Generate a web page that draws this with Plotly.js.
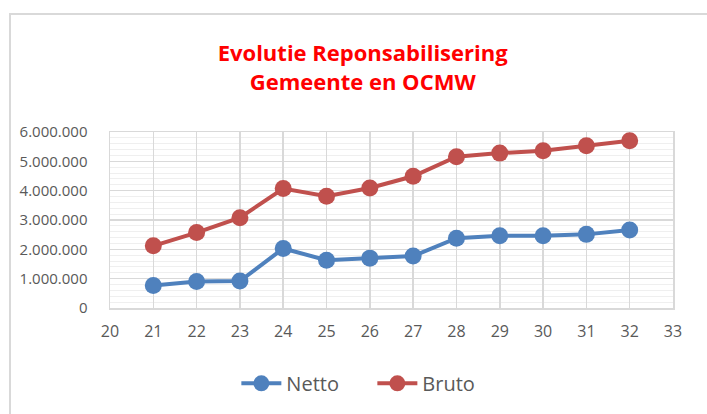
<!DOCTYPE html>
<html><head><meta charset="utf-8">
<script src="https://cdn.plot.ly/plotly-3.0.1.min.js"></script>
<style>
html,body{margin:0;padding:0;background:#fff;}
#wrap{position:relative;width:707px;height:414px;}
#chart{position:absolute;left:0;top:0;width:707px;height:414px;}
#frame{position:absolute;left:9px;top:13px;width:698px;height:401px;border-top:2px solid #d9d9d9;border-left:2px solid #d9d9d9;box-sizing:border-box;pointer-events:none;}
</style></head>
<body><div id="wrap"><div id="chart"></div><div id="frame"></div></div>
<script>
const years = [21,22,23,24,25,26,27,28,29,30,31,32];
const netto = [765000,900000,920000,2030000,1630000,1700000,1770000,2380000,2460000,2460000,2510000,2660000];
const bruto = [2120000,2570000,3080000,4070000,3810000,4090000,4490000,5160000,5280000,5360000,5530000,5700000];
const titleText = 'Evolutie Reponsabilisering<br>Gemeente en OCMW';

const traces = [
  {x: years, y: netto, name: 'Netto', type: 'scatter', mode: 'lines+markers',
   line: {color: '#4f81bd', width: 4}, marker: {color: '#4f81bd', size: 17}},
  {x: years, y: bruto, name: 'Bruto', type: 'scatter', mode: 'lines+markers',
   line: {color: '#c0504d', width: 4}, marker: {color: '#c0504d', size: 17}}
];
const layout = {
  width: 707, height: 414,
  margin: {l: 110, r: 34, t: 132, b: 105},
  paper_bgcolor: 'rgba(0,0,0,0)', plot_bgcolor: '#fff',
  separators: ',.',
  font: {family: 'Open Sans, sans-serif', color: '#595959', size: 14},
  title: {text: titleText, x: 0.513, xanchor: 'center', y: 0.852, yanchor: 'middle',
          font: {family: 'Open Sans, sans-serif', size: 22, color: '#ff0000', weight: 'bold'}},
  showlegend: true,
  legend: {orientation: 'h', x: 0.466, xanchor: 'center', y: -0.42, yanchor: 'middle',
           font: {size: 20, color: '#595959'}, itemwidth: 40, entrywidth: 81},
  xaxis: {range: [20, 33], dtick: 1, tick0: 20, showgrid: true, gridcolor: '#d9d9d9', gridwidth: 1.5,
          zeroline: false, showline: true, linecolor: '#d9d9d9', linewidth: 1.5, mirror: true,
          ticks: '', tickfont: {size: 16, color: '#595959'}, ticklabelstandoff: 8},
  yaxis: {range: [0, 6000000], dtick: 1000000, tickformat: ',d', showgrid: true, gridcolor: '#d9d9d9', gridwidth: 1.5,
          minor: {dtick: 200000, showgrid: true, gridcolor: '#efefef', gridwidth: 1},
          zeroline: false, showline: true, linecolor: '#d9d9d9', linewidth: 1.5, mirror: true,
          ticks: '', tickfont: {size: 15, color: '#595959'}, ticklabelstandoff: 18}
};
Plotly.newPlot('chart', traces, layout, {displayModeBar: false, staticPlot: true});
</script></body></html>
